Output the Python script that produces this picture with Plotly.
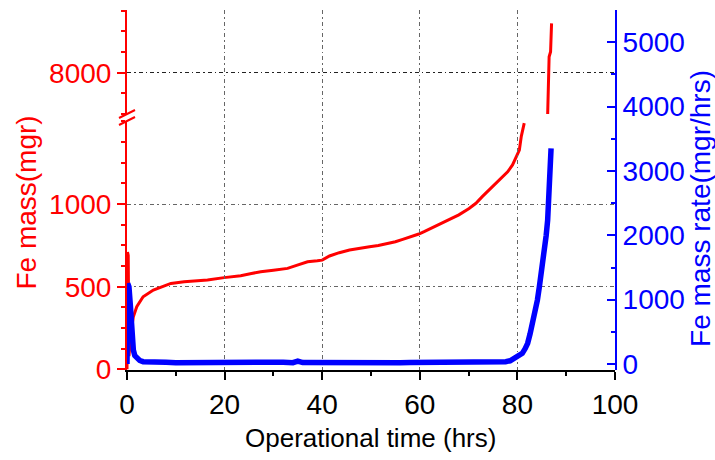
import plotly.graph_objects as go

# ---- data ----
mass_low_x = [0, 0.1, 0.25, 0.4, 0.6, 0.8, 1.0, 1.3, 2.0, 3.3, 5.4, 8.1, 9.0, 11.7, 14.0, 16.5,
              19.9, 23.3, 25.5, 27.4, 30.0, 32.9, 34.9, 37.0, 39.0, 40.0, 41.5, 43.5, 45.6, 47.5,
              49.7, 51.5, 53.1, 55.0, 56.5, 58.0, 59.8, 61.0, 62.6, 64.3, 66.0, 68.0, 70.1, 71.5,
              72.8, 74.2, 75.6, 77.0, 78.0, 79.0, 79.8, 80.4, 80.8, 81.4]
mass_low_y = [0, 710, 690, 80, 170, 220, 260, 318, 379, 439, 480, 510, 520, 530, 533, 540,
              555, 567, 580, 591, 600, 611, 631, 651, 657, 661, 686, 706, 722, 733,
              742, 750, 758, 772, 787, 800, 819, 835, 857, 880, 903, 935, 974, 1005,
              1045, 1085, 1125, 1166, 1195, 1237, 1290, 1327, 1410, 1490]

mass_high_x = [86.2, 86.3, 86.4, 86.5, 86.8, 86.9, 87.0]
mass_high_y = [7744, 7845, 7970, 8097, 8127, 8220, 8299]

rate_x = [0, 0.15, 0.4, 0.7, 0.96, 1.3, 1.6, 2.0, 2.6, 3.3, 4, 5, 6, 8, 10, 12, 14, 16, 18, 20,
          22, 24, 26, 28, 30, 32, 34, 35, 36, 38, 40, 42, 44, 46, 48, 50, 52, 54, 56, 58, 60,
          62, 64, 66, 68, 70, 72, 74, 76, 77.6, 78.5, 79.3, 80.2, 81.0, 81.6, 82.1, 82.6, 83.1,
          83.6, 84.1, 84.5, 84.8, 85.2, 85.5, 85.9, 86.2, 86.3, 86.4, 86.5, 86.7, 86.9]
rate_y = [0, 1250, 1200, 900, 478, 218, 130, 88, 55, 36, 32, 30, 28, 26, 20, 22, 18, 20, 20, 25,
          22, 28, 20, 25, 22, 28, 20, 45, 22, 20, 28, 25, 22, 26, 20, 24, 22, 25, 20, 22, 22,
          18, 24, 20, 22, 20, 35, 30, 38, 36, 50, 88, 120, 166, 240, 322, 470, 633,
          810, 995, 1201, 1357, 1560, 1772, 2000, 2238, 2450, 2600, 2800, 3067, 3352]

mass_low_ticks = [0, 500, 1000]
mass_high_ticks = [8000]

x_title = "Operational time (hrs)"
yl_title = "Fe mass(mgr)"
yr_title = "Fe mass rate(mgr/hrs)"

RED = "#ff0000"
BLUE = "#0000ff"
FONT = "Arial, Liberation Sans, sans-serif"
GRID = "#666666"
GDASH = "4px,3px,1.5px,3px"
TS = 28

fig = go.Figure()
fig.add_trace(go.Scatter(x=mass_low_x, y=mass_low_y, mode="lines", xaxis="x", yaxis="y",
                         line=dict(color=RED, width=3), showlegend=False))
fig.add_trace(go.Scatter(x=mass_high_x, y=mass_high_y, mode="lines", xaxis="x", yaxis="y3",
                         line=dict(color=RED, width=3), showlegend=False))
fig.add_trace(go.Scatter(x=rate_x, y=rate_y, mode="lines", xaxis="x2", yaxis="y2",
                         line=dict(color=BLUE, width=5.5), showlegend=False))

fig.update_layout(
    width=715, height=460,
    margin=dict(l=127, r=100, t=10, b=90),
    paper_bgcolor="white", plot_bgcolor="rgba(0,0,0,0)",
    font=dict(family=FONT),
    xaxis=dict(domain=[0, 1], range=[0, 100], anchor="y", dtick=20, tick0=0,
               showgrid=False, zeroline=False, showline=True, linecolor="black", linewidth=2,
               ticks="outside", ticklen=8, tickwidth=2, tickcolor="black",
               tickfont=dict(family=FONT, size=TS, color="black"),
               minor=dict(dtick=10, ticks="outside", ticklen=4, tickwidth=1.5, tickcolor="black")),
    xaxis2=dict(domain=[0, 1], range=[0, 100], anchor="y2", dtick=20, tick0=0,
                showgrid=True, gridcolor=GRID, griddash=GDASH, gridwidth=1,
                showticklabels=False, ticks="", showline=False, zeroline=False),
    yaxis=dict(domain=[0, 0.6917], range=[-4, 1503], anchor="x",
               tickmode="array", tickvals=mass_low_ticks,
               showgrid=True, gridcolor=GRID, griddash=GDASH, gridwidth=1, zeroline=False,
               showline=True, linecolor=RED, linewidth=2,
               ticks="outside", ticklen=8, tickwidth=2, tickcolor=RED,
               tickfont=dict(family=FONT, size=TS, color=RED),
               minor=dict(dtick=125, tick0=0, ticks="outside", ticklen=4, tickwidth=1.5, tickcolor=RED)),
    yaxis3=dict(domain=[0.7111, 1], range=[7750, 8380], anchor="x",
                tickmode="array", tickvals=mass_high_ticks,
                showgrid=True, gridcolor="#222222", griddash=GDASH, gridwidth=1, zeroline=False,
                showline=True, linecolor=RED, linewidth=2,
                ticks="outside", ticklen=8, tickwidth=2, tickcolor=RED,
                tickfont=dict(family=FONT, size=TS, color=RED),
                minor=dict(dtick=125, tick0=0, ticks="outside", ticklen=4, tickwidth=1.5, tickcolor=RED)),
    yaxis2=dict(domain=[0, 1], range=[-93, 5502], anchor="x2", side="right", dtick=1000, tick0=0,
                showgrid=False, zeroline=False, showline=True, linecolor=BLUE, linewidth=2,
                ticks="inside", ticklen=8, tickwidth=2, tickcolor=BLUE,
                tickfont=dict(family=FONT, size=TS, color=BLUE),
                minor=dict(dtick=500, ticks="inside", ticklen=4, tickwidth=1.5, tickcolor=BLUE)),
)

# axis titles
fig.add_annotation(text=x_title, xref="paper", yref="paper", x=0.498, y=-0.19,
                   showarrow=False, font=dict(family=FONT, size=26, color="black"),
                   xanchor="center", yanchor="middle")
fig.add_annotation(text=yl_title, xref="paper", yref="paper", x=-0.205, y=0.465,
                   textangle=-90, showarrow=False, font=dict(family=FONT, size=28, color=RED),
                   xanchor="center", yanchor="middle")
fig.add_annotation(text=yr_title, xref="paper", yref="paper", x=1.174, y=0.45,
                   textangle=-90, showarrow=False, font=dict(family=FONT, size=28, color=BLUE),
                   xanchor="center", yanchor="middle")

# axis-break marks
dx, dy = 8 / 488, 4 / 360
for yc in (0.6917, 0.7111):
    fig.add_shape(type="line", xref="paper", yref="paper",
                  x0=-dx, y0=yc - dy, x1=dx, y1=yc + dy,
                  line=dict(color=RED, width=2))

fig.write_html("out.html")
